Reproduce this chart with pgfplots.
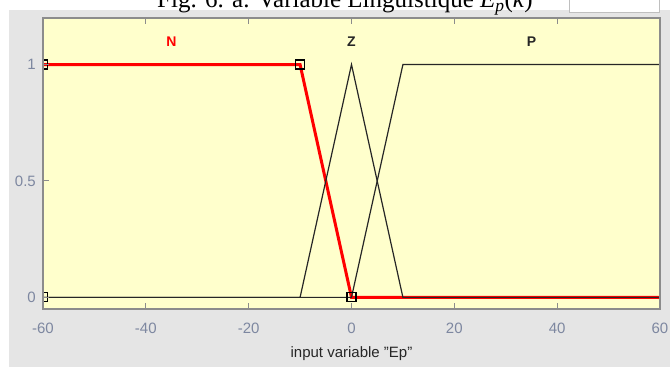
\documentclass[border=0pt]{standalone}
\usepackage{pgfplots}
\pgfplotsset{compat=1.18}
\usepackage{fontspec}
\setmainfont{Liberation Sans}
\newfontfamily\seriffont{Liberation Serif}
\definecolor{panel}{RGB}{229,229,229}
\definecolor{axbg}{RGB}{255,255,204}
\definecolor{frame}{RGB}{140,140,140}
\definecolor{tickgray}{RGB}{125,135,160}
\definecolor{mfred}{RGB}{255,0,0}
\begin{document}
\begin{tikzpicture}[x=1pt,y=1pt]
\useasboundingbox (0,0) rectangle (670,367);
\fill[white] (0,0) rectangle (670,367);
\fill[panel] (9,0) rectangle (670,357);
\filldraw[fill=white,draw=black!25,line width=1pt] (569,368) -- (569,354) -- (659,354) -- (659,368);
\begin{scope}
\clip (0,0) rectangle (670,367);
\node[anchor=base west,inner sep=0pt,font=\seriffont\fontsize{25}{25}\selectfont] at (157,359)
  {Fig. 6. a. Variable Linguistique \textit{E}\textsubscript{\textit{p}}(\textit{k})};
\end{scope}
\begin{axis}[
  at={(43pt,58pt)}, anchor=south west,
  scale only axis, width=617pt, height=291pt,
  xmin=-60, xmax=60, ymin=-0.05, ymax=1.2,
  axis background/.style={fill=axbg},
  axis line style={draw=frame,line width=1.5pt},
  xtick={-60,-40,-20,0,20,40,60},
  ytick={0,0.5,1},
  yticklabels={0,0.5,1},
  tick align=inside,
  xtick pos=both, ytick pos=left,
  major tick length=6pt,
  tick style={draw=frame,line width=1pt},
  /pgf/number format/assume math mode=true,
  every x tick label/.append style={anchor=center,yshift=-19pt,inner sep=0pt,
     font=\fontsize{15}{15}\selectfont,text=tickgray},
  every y tick label/.append style={anchor=east,xshift=-7pt,inner sep=0pt,
     font=\fontsize{15}{15}\selectfont,text=tickgray},
  xlabel={input variable "Ep"},
  xlabel style={at={(axis description cs:0.5,0)},anchor=center,yshift=-45pt,
     font=\fontsize{15}{15}\selectfont,text=black!85},
  clip mode=individual, clip marker paths=true,
  axis on top,
]
% N (selected, red)
\addplot[mfred,line width=3pt] coordinates {(-60,1) (-10,1) (0,0) (60,0)};
% Z
\addplot[black!85,line width=1.2pt] coordinates {(-60,0) (-10,0) (0,1) (10,0) (60,0)};
% P
\addplot[black!85,line width=1.2pt] coordinates {(-60,0) (0,0) (10,1) (60,1)};
% vertex markers of N
\addplot[only marks,mark=square,mark size=4.5pt,mark options={draw=black,line width=1.2pt,fill=none}]
  coordinates {(-60,0) (-60,1) (-10,1) (0,0)};
\node[font=\bfseries\fontsize{14}{14}\selectfont,text=mfred] at (axis cs:-35,1.1) {N};
\node[font=\bfseries\fontsize{14}{14}\selectfont,text=black!85] at (axis cs:0,1.1) {Z};
\node[font=\bfseries\fontsize{14}{14}\selectfont,text=black!85] at (axis cs:35,1.1) {P};
\end{axis}
\end{tikzpicture}
\end{document}
